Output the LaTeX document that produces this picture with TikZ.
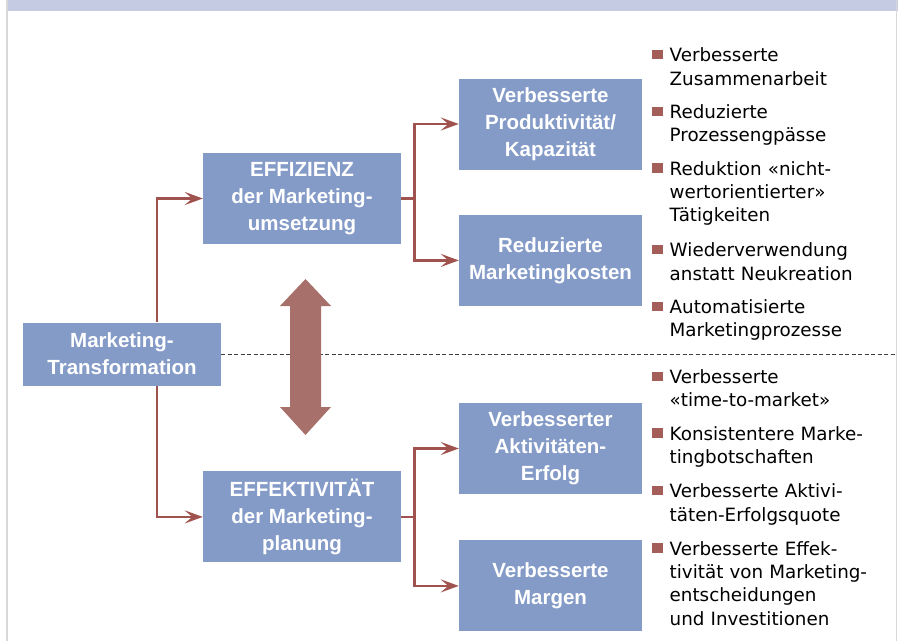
\documentclass[tikz,border=0pt]{standalone}
\usepackage{fontspec}
\setmainfont{DejaVu Sans}
\newfontfamily\boxfont{Liberation Sans}
\usetikzlibrary{positioning,arrows.meta,calc}
\definecolor{boxblue}{RGB}{132,155,200}
\definecolor{bandblue}{RGB}{196,203,227}
\definecolor{linkred}{RGB}{160,82,78}
\definecolor{shiftred}{RGB}{168,112,106}
\definecolor{bulred}{RGB}{164,94,90}
\definecolor{rimgray}{RGB}{216,216,216}
\tikzstyle{mbox}=[rectangle, fill=boxblue, text=white, inner sep=0pt, align=center,
                  font=\boxfont\bfseries\fontsize{20.5}{27}\selectfont]
\tikzstyle{lbox}=[mbox, minimum width=198pt, minimum height=91pt]
\tikzstyle{rbox}=[mbox, minimum width=183pt, minimum height=91pt]
\tikzstyle{pline}=[-{Stealth[length=18pt,width=13pt,inset=7.5pt]}, line width=2.6pt, draw=linkred]
\tikzstyle{plist}=[anchor=base west, text width=228pt, align=left, inner sep=0pt,
                   font=\fontsize{18.3}{23.4}\selectfont]
\newcommand{\pkt}{\noindent\llap{\textcolor{bulred}{\rule[2.3pt]{10.5pt}{9.5pt}}\hspace{7pt}}}

\begin{document}
\begin{tikzpicture}[x=1pt, y=-1pt]
\useasboundingbox (0,0) rectangle (898,641);
\fill[white] (0,0) rectangle (898,641);
\fill[bandblue] (8,0) rectangle (898,11);
\draw[rimgray, line width=1.5pt] (7,0) -- (7,641);
\draw[rimgray, line width=1.5pt] (896.5,0) -- (896.5,641);

\node (MT) [mbox, minimum width=198pt, minimum height=63pt] at (122,354)
  {Marketing-\\Transformation};
\node (EFF) [lbox] at (302,198.5) {EFFIZIENZ\\der Marketing-\\umsetzung};
\node (EFK) [lbox, below=227pt of EFF] {EFFEKTIVITÄT\\der Marketing-\\planung};
\node (PROD) [rbox] at (550.5,124) {Verbesserte\\Produktivität/\\Kapazität};
\node (RED) [rbox, below=45pt of PROD] {Reduzierte\\Marketingkosten};
\node (ERF) [rbox] at (550.5,448.5) {Verbesserter\\Aktivitäten-\\Erfolg};
\node (MARG) [rbox, below=46pt of ERF] {Verbesserte\\Margen};

% split between the two halves
\coordinate (rim) at (896,0);
\draw[dashed, dash pattern=on 4pt off 2.5pt, black!75, line width=0.9pt]
  (MT.east) -- (MT.east -| rim);
\fill[shiftred] (305.5,279) -- (331,306) -- (321,306) -- (321,407) -- (331,407)
  -- (305.5,435) -- (280,407) -- (290,407) -- (290,306) -- (280,306) -- cycle;

\draw[pline] ([xshift=35pt]MT.north) |- (EFF.west);
\draw[pline] ([xshift=35pt]MT.south) |- (EFK.west);
\draw[pline] (EFF.east) -- ++(13pt,0) |- (PROD.west);
\draw[pline] (EFF.east) -- ++(13pt,0) |- (RED.west);
\draw[pline] (EFK.east) -- ++(13pt,0) |- (ERF.west);
\draw[pline] (EFK.east) -- ++(13pt,0) |- (MARG.west);

% effects
\node (p1) [plist] at (669.5,61.7) {\pkt Verbesserte\\Zusammenarbeit};
\node (p2) [plist] at (669.5,118.3) {\pkt Reduzierte\\Prozessengpässe};
\node (p3) [plist] at (669.5,175) {\pkt Reduktion «nicht-\\wertorientierter»\\Tätigkeiten};
\node (p4) [plist] at (669.5,256.7) {\pkt Wiederverwendung\\anstatt Neukreation};
\node (p5) [plist] at (669.5,313.3) {\pkt Automatisierte\\Marketingprozesse};
\node (p6) [plist] at (669.5,383.3) {\pkt Verbesserte\\«time-to-market»};
\node (p7) [plist] at (669.5,440) {\pkt Konsistentere Marke-\\tingbotschaften};
\node (p8) [plist] at (669.5,497.7) {\pkt Verbesserte Aktivi-\\täten-Erfolgsquote};
\node (p9) [plist] at (669.5,555) {\pkt Verbesserte Effek-\\tivität von Marketing-\\entscheidungen\\und Investitionen};
\end{tikzpicture}
\end{document}
